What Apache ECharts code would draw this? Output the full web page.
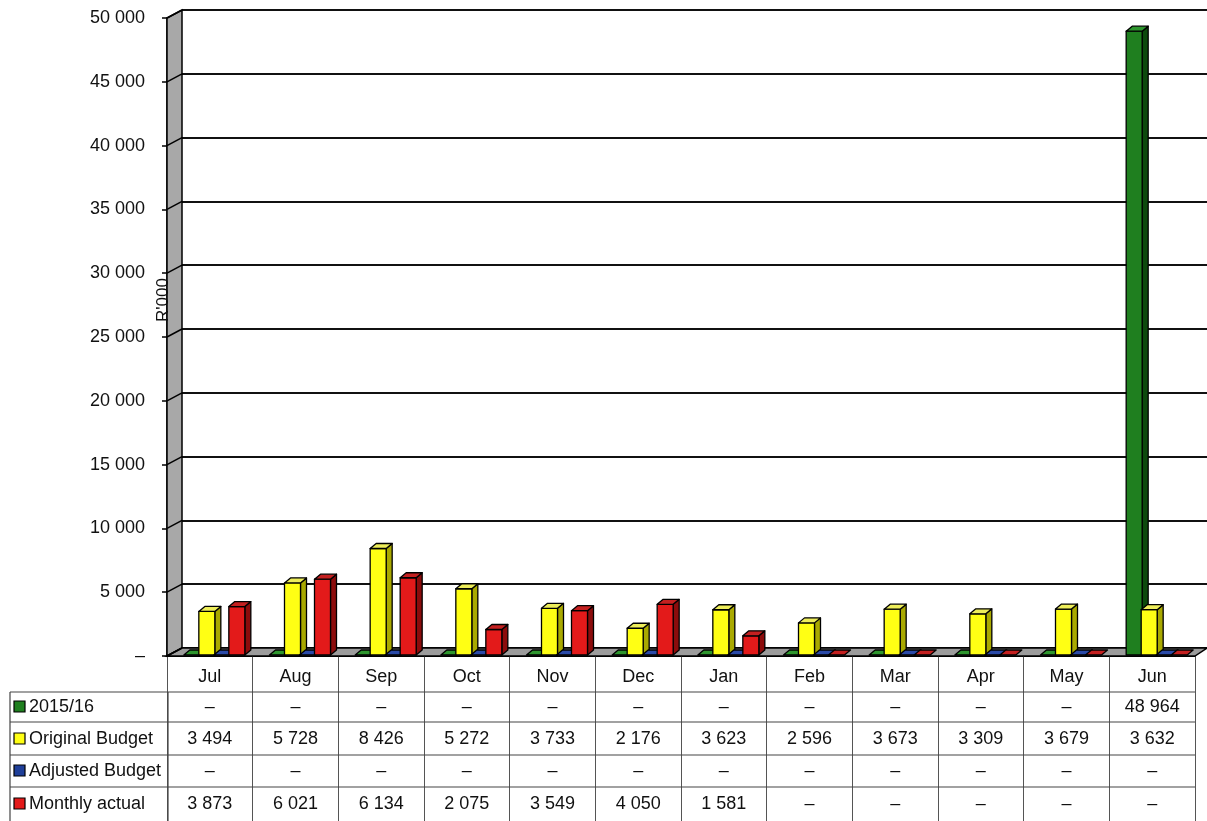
<!DOCTYPE html>
<html><head><meta charset="utf-8">
<script src="https://cdn.jsdelivr.net/npm/echarts@6/dist/echarts.min.js"></script>
<style>html,body{margin:0;padding:0;background:#fff}#c{width:1207px;height:821px}</style>
</head><body><div id="c"></div>
<script>
const months = ['Jul','Aug','Sep','Oct','Nov','Dec','Jan','Feb','Mar','Apr','May','Jun'];
const seriesNames = ['2015/16','Original Budget','Adjusted Budget','Monthly actual'];
const prior    = [0,0,0,0,0,0,0,0,0,0,0,48964];
const budget   = [3494,5728,8426,5272,3733,2176,3623,2596,3673,3309,3679,3632];
const adjusted = [0,0,0,0,0,0,0,0,0,0,0,0];
const actual   = [3873,6021,6134,2075,3549,4050,1581,0,0,0,0,0];
const yMin = 0, yMax = 50000, yStep = 5000;
const axisName = "R'000";

const allSeries = [prior, budget, adjusted, actual];
const FONT = '"Liberation Sans", Arial, sans-serif';
const TXT = '#111';
function fmt(v){ if(!v) return '\u2013'; return String(v).replace(/\B(?=(\d{3})+(?!\d))/g,' '); }

const styles = [
  {front:'#1f7f1f', side:'#0d4a0d', top:'#2e962e', off:-18},
  {front:'#ffff14', side:'#a9a900', top:'#eded5a', off:-3},
  {front:'#1f3f99', side:'#0f2060', top:'#2a4aa8', off:12},
  {front:'#e31a1a', side:'#8c0c0c', top:'#c42020', off:27}
];
const BW = 16, DX = 6, DY = 5;
function render(si){
  return function(params, api){
    const s = styles[si];
    const i = api.value(0), v = api.value(1);
    const b = api.coord([i, 0]), t = api.coord([i, v]);
    const x0 = b[0] + s.off - BW/2, x1 = x0 + BW, y0 = b[1] - 1, y1 = Math.min(t[1], y0);
    const ln = {stroke:'#000', lineWidth:1.3, lineJoin:'round'};
    const ch = [];
    if (y0 - y1 > 0.5) {
      ch.push({type:'polygon', shape:{points:[[x1,y0],[x1+DX,y0-DY],[x1+DX,y1-DY],[x1,y1]]}, style:Object.assign({fill:s.side}, ln)});
      ch.push({type:'rect', shape:{x:x0, y:y1, width:BW, height:y0-y1}, style:Object.assign({fill:s.front}, ln)});
    }
    ch.push({type:'polygon', shape:{points:[[x0,y1],[x0+DX,y1-DY],[x1+DX,y1-DY],[x1,y1]]}, style:Object.assign({fill:s.top}, ln)});
    return {type:'group', children:ch};
  };
}

const GL = 167, GR = 1195, GT = 18, GB = 656, BX = 15, BY = 8;
const chart = echarts.init(document.getElementById('c'));
chart.setOption({
  animation:false,
  backgroundColor:'#fff',
  grid:[
    {left:GL, right:1207-GR, top:GT, bottom:821-GB},
    {left:GL+BX, right:0, top:GT-BY, bottom:821-GB+BY}
  ],
  xAxis:[
    {type:'category', gridIndex:0, data:months,
     axisLine:{lineStyle:{color:'#000', width:2}},
     axisTick:{show:true, interval:0, length:165, lineStyle:{color:'#555', width:1}},
     axisLabel:{interval:0, margin:12, fontSize:18, fontFamily:FONT, color:TXT}},
    {type:'category', gridIndex:1, data:months, show:true,
     axisLine:{show:false}, axisTick:{show:false}, axisLabel:{show:false}}
  ],
  yAxis:[
    {type:'value', gridIndex:0, min:yMin, max:yMax, interval:yStep,
     axisLine:{show:true, lineStyle:{color:'#000', width:1.5}},
     axisTick:{show:true, length:5, lineStyle:{color:'#000', width:1.5}},
     splitLine:{show:false},
     axisLabel:{margin:22, fontSize:18, fontFamily:FONT, color:TXT,
       formatter:v => fmt(v)}},
    {type:'value', gridIndex:1, min:yMin, max:yMax, interval:yStep, show:true,
     axisLine:{show:false}, axisTick:{show:false}, axisLabel:{show:false},
     splitLine:{show:true, lineStyle:{color:'#111', width:2}}}
  ],
  series: allSeries.map((arr, si) => ({
    type:'custom', name:seriesNames[si], xAxisIndex:0, yAxisIndex:0,
    renderItem:render(si), encode:{x:0, y:1},
    data: arr.map((v, i) => [i, v])
  }))
});

// decorations and data table
const g = [];
g.push({type:'polygon', z:1, shape:{points:[[GL,GB],[GL,GT],[GL+BX,GT-BY],[GL+BX,GB-BY]]},
  style:{fill:'#a8a8a8', stroke:'#000', lineWidth:1.5}});
for (let v = yMin; v <= yMax; v += yStep) {
  const y = chart.convertToPixel({yAxisIndex:0}, v);
  g.push({type:'line', z:2, shape:{x1:GL, y1:y, x2:GL+BX, y2:y-BY}, style:{stroke:'#000', lineWidth:1.5}});
}
g.push({type:'polygon', z:1, shape:{points:[[GL,GB],[GL+BX,GB-BY],[1207,GB-BY],[GR,GB]]},
  style:{fill:'#9c9c9c', stroke:'#000', lineWidth:1.5}});
g.push({type:'text', z:20, x:163, y:300, rotation:Math.PI/2,
  style:{text:axisName, fontSize:17, fontFamily:FONT, fill:TXT, align:'center', verticalAlign:'middle'}});

const rowLines = [692, 722, 755, 787];
const rowCenters = [707, 739, 771, 804];
rowLines.forEach(y => g.push({type:'line', z:5, shape:{x1:10, y1:y, x2:GR, y2:y}, style:{stroke:'#444', lineWidth:1.2}}));
g.push({type:'line', z:5, shape:{x1:10, y1:692, x2:10, y2:821}, style:{stroke:'#444', lineWidth:1.2}});
g.push({type:'line', z:5, shape:{x1:GL+1, y1:692, x2:GL+1, y2:821}, style:{stroke:'#444', lineWidth:1.2}});
allSeries.forEach((arr, si) => {
  const yc = rowCenters[si];
  g.push({type:'rect', z:6, shape:{x:14, y:yc-6, width:11, height:11},
    style:{fill:styles[si].front, stroke:'#000', lineWidth:1.2}});
  g.push({type:'text', z:6, x:29, y:yc,
    style:{text:seriesNames[si], fontSize:18, fontFamily:FONT, fill:TXT, align:'left', verticalAlign:'middle'}});
  arr.forEach((v, i) => {
    const xc = chart.convertToPixel({xAxisIndex:0}, i);
    g.push({type:'text', z:6, x:xc, y:yc,
      style:{text:fmt(v), fontSize:18, fontFamily:FONT, fill:TXT, align:'center', verticalAlign:'middle'}});
  });
});
chart.setOption({graphic:{elements:g}});
</script>
</body></html>
